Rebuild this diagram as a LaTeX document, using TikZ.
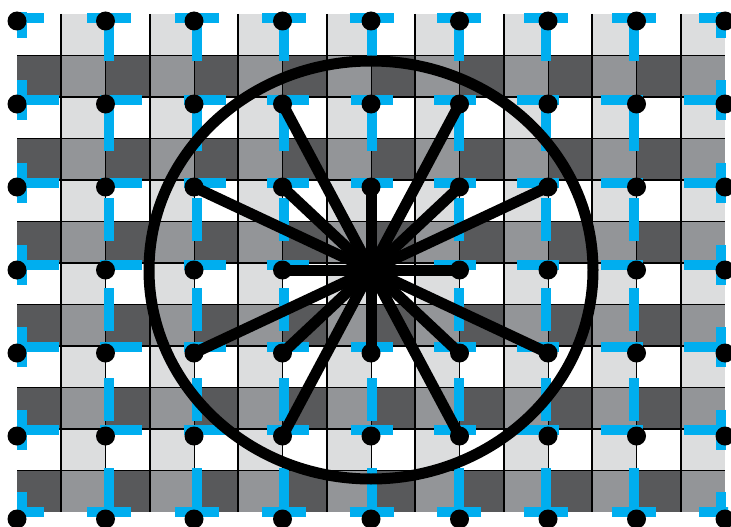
\documentclass[tikz,border=0pt]{standalone}
\definecolor{lightcell}{HTML}{DCDDDE}
\definecolor{midcell}{HTML}{939598}
\definecolor{darkcell}{HTML}{58595B}
\definecolor{cyanbar}{HTML}{00AEEF}

\begin{document}
\begin{tikzpicture}[x=1pt, y=-1pt,
    dot/.style={circle, fill=black, inner sep=0pt, minimum size=19pt},
    spoke/.style={line width=11pt, line cap=round},
    ring/.style={line width=11pt},
    bluebar/.style={line width=10pt, draw=cyanbar},
    gridline/.style={line width=1.6pt},
    thinline/.style={line width=0.7pt}
  ]
  \useasboundingbox (0,0) rectangle (731,527);

  % checker cells
  \foreach \j in {0,2,...,10}
    \foreach \k in {1,3,...,15}
      \fill[lightcell] ({17+44.25*\k},{14+41.5*\j}) rectangle ++(44.25,41.5);
  \foreach \j in {1,3,...,11} {
    \fill[darkcell] (17,{14+41.5*\j}) rectangle (725,{14+41.5*(\j+1)});
    \foreach \k in {1,3,...,15}
      \fill[midcell] ({17+44.25*\k},{14+41.5*\j}) rectangle ++(44.25,41.5);
  }
  \foreach \k in {1,3,...,15}
    \draw[gridline] ({17+44.25*\k},14) -- ({17+44.25*\k},512);
  \foreach \k in {2,4,...,14}
    \draw[thinline] ({17+44.25*\k},14) -- ({17+44.25*\k},512);
  \foreach \j in {1,...,11}
    \draw[gridline] (17,{14+41.5*\j}) -- (725,{14+41.5*\j});

  % blue dashed lattice
  \begin{scope}
    \clip (17,13) rectangle (728,516.5);
    \foreach \r in {1,...,5}
      \draw[bluebar, dash pattern=on 42pt off 41.4pt]
        (17,{18+82.3*\r}) -- (725,{18+82.3*\r});
    \foreach \c in {1,...,7}
      \draw[bluebar, dash pattern=on 43pt off 47pt]
        ({22+87.4*\c},18) -- ({22+87.4*\c},512);
    \foreach \c in {0,...,8} {
      \draw[bluebar] ({22+87.4*\c-22},18) -- ({22+87.4*\c+22},18);
      \draw[bluebar] ({22+87.4*\c-22},511.8) -- ({22+87.4*\c+22},511.8);
    }
    \foreach \r in {0,...,6} {
      \draw[bluebar] (22,{18+82.3*\r-20}) -- (22,{18+82.3*\r+20});
      \draw[bluebar] (721.2,{18+82.3*\r-20}) -- (721.2,{18+82.3*\r+20});
    }
  \end{scope}

  % sample points
  \foreach \c in {0,...,8}
    \foreach \r in {0,...,6}
      \node[dot] (d\c\r) at ({17+88.5*\c},{21+83*\r}) {};

  \draw[ring] (d43.center) ellipse [x radius=222, y radius=209];

  \foreach \c/\r in {3/1,5/1,2/2,3/2,4/2,5/2,6/2,3/3,5/3,
                     2/4,3/4,4/4,5/4,6/4,3/5,5/5}
    \draw[spoke] (d43.center) -- (d\c\r.center);
\end{tikzpicture}
\end{document}
